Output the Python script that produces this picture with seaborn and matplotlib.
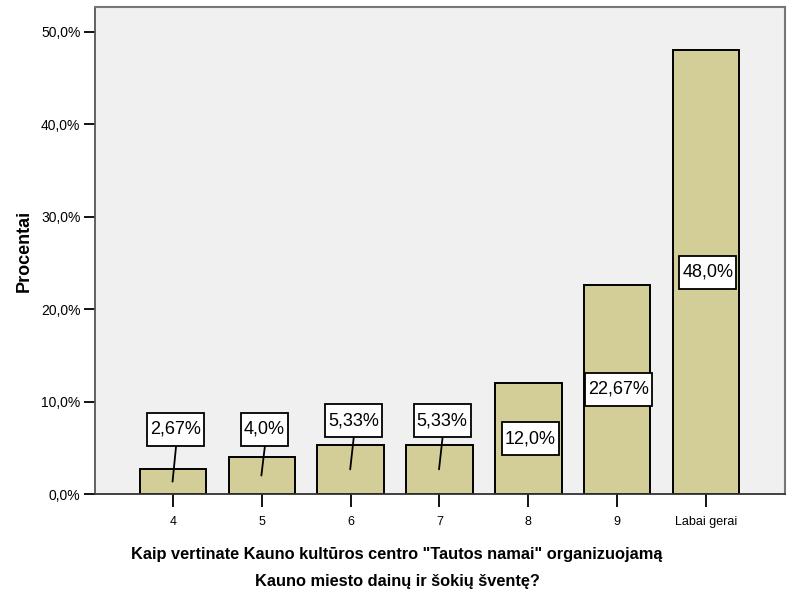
import numpy as np
import pandas as pd
import matplotlib
matplotlib.use("Agg")
import matplotlib.pyplot as plt
from matplotlib.path import Path
import seaborn as sns

# Data
categories = ["4", "5", "6", "7", "8", "9", "Labai gerai"]
percent = [2.67, 4.0, 5.33, 5.33, 12.0, 22.67, 48.0]
value_labels = ["2,67%", "4,0%", "5,33%", "5,33%", "12,0%", "22,67%", "48,0%"]
y_ticks = [0, 10, 20, 30, 40, 50]
y_tick_labels = ["0,0%", "10,0%", "20,0%", "30,0%", "40,0%", "50,0%"]

df = pd.DataFrame({"Kategorija": categories, "Procentai": percent})

sns.set_style("white")
plt.rcParams["font.family"] = ["Liberation Sans", "DejaVu Sans"]
plt.rcParams["text.color"] = "black"
plt.rcParams["axes.labelcolor"] = "black"
plt.rcParams["xtick.color"] = "black"
plt.rcParams["ytick.color"] = "black"


def tall_box(x0, y0, width, height, mutation_size):
    # SPSS style label box: little side padding, more above and below
    px = 0.17 * mutation_size
    py = 0.45 * mutation_size
    x0, y0 = x0 - px, y0 - py
    w, h = width + 2 * px, height + 2 * py
    return Path([(x0, y0), (x0 + w, y0), (x0 + w, y0 + h), (x0, y0 + h), (x0, y0)], closed=True)


fig = plt.figure(figsize=(7.91, 5.94), dpi=100)
ax = fig.add_axes([95 / 791, 1 - 494 / 594, 690 / 791, 487 / 594])
ax.set_facecolor("#f0f0f0")

sns.barplot(data=df, x="Kategorija", y="Procentai", order=categories,
            color="#d3ce97", saturation=1, width=0.75,
            edgecolor="black", linewidth=1.4, ax=ax)

ax.set_xlim(-0.878, 6.89)
ax.set_ylim(0, 52.7)
ax.set_yticks(y_ticks)
ax.set_yticklabels(y_tick_labels, fontsize=10)
ax.tick_params(axis="x", bottom=True, labelsize=9, length=9, width=1.3, color="black", pad=7)
ax.tick_params(axis="y", left=True, length=8, width=1.3, color="black", pad=2.5)

for side in ["top", "right"]:
    ax.spines[side].set_color("#777777")
    ax.spines[side].set_linewidth(1.5)
ax.spines["left"].set_color("#555555")
ax.spines["left"].set_linewidth(1.3)
ax.spines["bottom"].set_color("#333333")
ax.spines["bottom"].set_linewidth(1.3)

box = dict(boxstyle=tall_box, facecolor="white", edgecolor="black", linewidth=1.3)
for i, (v, lab) in enumerate(zip(percent, value_labels)):
    if v < 10:
        ly = max(7.0, v + 2.6)
        ax.plot([i + 0.035, i - 0.005], [ly - 1.8, v / 2], color="black", lw=1.3, zorder=4)
        ax.text(i + 0.03, ly, lab, ha="center", va="center", fontsize=13, bbox=box, zorder=5)
    else:
        ax.text(i + 0.02, v / 2, lab, ha="center", va="center", fontsize=13, bbox=box, zorder=5)

ax.set_xlabel("")
ax.set_ylabel("Procentai", fontsize=13, fontweight="bold", labelpad=6)
fig.text(0.502, 1 - 568 / 594,
         'Kaip vertinate Kauno kultūros centro "Tautos namai" organizuojamą\nKauno miesto dainų ir šokių šventę?',
         ha="center", va="center", fontsize=11.8, fontweight="bold", linespacing=2.0)

fig.savefig("out.png", dpi=100)
